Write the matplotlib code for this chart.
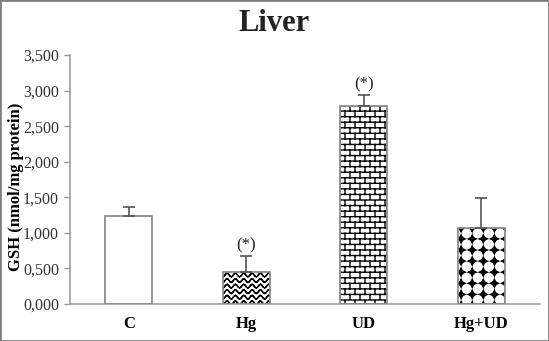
import warnings
import numpy as np
import matplotlib
matplotlib.use('Agg')
import matplotlib.pyplot as plt
import matplotlib.hatch as mhatch
from matplotlib.path import Path
from matplotlib.patches import Rectangle
from matplotlib.ticker import FuncFormatter, MultipleLocator

warnings.filterwarnings('ignore')

# data (GSH, nmol/mg protein)
groups = ['C', 'Hg', 'UD', 'Hg+UD']
gsh_mean = [1.24, 0.455, 2.785, 1.07]
gsh_err = [0.12, 0.22, 0.15, 0.42]
signif = ['', '(*)', '(*)', '']
textures = [None, 'w', 'b', 'd']


# --- custom hatches: waves (w), bricks (b), star/diamond dots (d) ---
class Waves(mhatch.HatchPatternBase):
    def __init__(self, hatch, density):
        self.on = 'w' in hatch
        self.rows, self.periods, self.seg = 18, 12, 8
        nseg = self.periods * self.seg
        self.num_vertices = self.rows * nseg * 2 if self.on else 0

    def set_vertices_and_codes(self, vertices, codes):
        nseg = self.periods * self.seg
        xs = np.linspace(0, 1, nseg + 1)
        amp = 0.018
        k = 0
        for i in range(self.rows):
            y0 = (i + 0.5) / self.rows
            ys = y0 + amp * np.sin(2 * np.pi * self.periods * xs)
            for j in range(nseg):
                vertices[k] = (xs[j], ys[j])
                vertices[k + 1] = (xs[j + 1], ys[j + 1])
                codes[k] = Path.MOVETO
                codes[k + 1] = Path.LINETO
                k += 2


class Bricks(mhatch.HatchPatternBase):
    def __init__(self, hatch, density):
        self.on = 'b' in hatch
        self.rows, self.cols = 18, 10
        n = (self.rows + 1) * 2 + self.rows * (self.cols + 1) * 2
        self.num_vertices = n if self.on else 0

    def set_vertices_and_codes(self, vertices, codes):
        segs = []
        for i in range(self.rows + 1):
            y = i / self.rows
            segs.append(((0, y), (1, y)))
        for i in range(self.rows):
            y0, y1 = i / self.rows, (i + 1) / self.rows
            off = 0.0 if i % 2 == 0 else 0.5
            for k in range(self.cols + 1):
                x = (k + off) / self.cols
                segs.append(((min(x, 1), y0), (min(x, 1), y1)))
        for n, (a, b) in enumerate(segs):
            vertices[2 * n] = a
            vertices[2 * n + 1] = b
            codes[2 * n] = Path.MOVETO
            codes[2 * n + 1] = Path.LINETO


class Stars(mhatch.HatchPatternBase):
    def __init__(self, hatch, density):
        self.on = 'd' in hatch
        self.n = 9
        self.m = 6
        self.per = 4 * self.m + 1
        self.num_vertices = self.n * self.n * self.per if self.on else 0

    def shape(self):
        c = 1.0 / self.n
        h = c / 2
        rho = 0.52 * c
        a = h - np.sqrt(rho ** 2 - h ** 2)
        # concave side: arc of the circle centred at the cell corner (h, h)
        t1 = np.arctan2(-h, a - h)
        t2 = np.arctan2(a - h, -h)
        ts = np.linspace(t1, t2, self.m)
        arc = np.column_stack([h + rho * np.cos(ts), h + rho * np.sin(ts)])
        pts = []
        for q in range(4):
            ang = q * np.pi / 2
            rot = np.array([[np.cos(ang), -np.sin(ang)], [np.sin(ang), np.cos(ang)]])
            pts.append(arc @ rot.T)
        return np.vstack(pts)

    def set_vertices_and_codes(self, vertices, codes):
        base = self.shape()
        k = 0
        for i in range(self.n):
            for j in range(self.n):
                cx, cy = (i + 0.5) / self.n, (j + 0.5) / self.n
                vertices[k:k + self.per - 1] = base + (cx, cy)
                vertices[k + self.per - 1] = base[0] + (cx, cy)
                codes[k] = Path.MOVETO
                codes[k + 1:k + self.per - 1] = Path.LINETO
                codes[k + self.per - 1] = Path.CLOSEPOLY
                k += self.per


mhatch._hatch_types = mhatch._hatch_types + [Waves, Bricks, Stars]

plt.rcParams['font.family'] = ['Liberation Serif', 'DejaVu Serif']
plt.rcParams['hatch.linewidth'] = 1.0

fig = plt.figure(figsize=(5.49, 3.41), dpi=100)
ax = fig.add_axes([70 / 549, 1 - 304 / 341, 470 / 549, 249 / 341])

x = np.arange(len(groups))
# textures in black, then grey outlines on top
ax.bar(x, gsh_mean, width=0.4, color='white', edgecolor='black',
       linewidth=0, hatch=textures, zorder=2)
ax.bar(x, gsh_mean, width=0.4, fill=False, edgecolor='#8c8c8c',
       linewidth=1.3, zorder=3)
ax.errorbar(x, gsh_mean, yerr=[np.zeros(len(x)), gsh_err], fmt='none',
            ecolor='#555555', elinewidth=1.2, capsize=4, capthick=1.2, zorder=4)

for xi, m, e, s in zip(x, gsh_mean, gsh_err, signif):
    if s:
        ax.annotate(s, (xi, m + e), xytext=(0, 2), textcoords='offset points',
                    ha='center', va='bottom', fontsize=12, color='#222222')

ax.set_xlim(-0.5, 3.5)
ax.set_ylim(0, 3.5)
ax.yaxis.set_major_locator(MultipleLocator(0.5))
ax.yaxis.set_major_formatter(FuncFormatter(lambda v, p: f'{v:.3f}'.replace('.', ',')))
ax.set_xticks(x)
ax.set_xticklabels(groups, fontsize=12, fontweight='bold')
ax.tick_params(axis='x', length=0, pad=9)
ax.tick_params(axis='y', length=4, width=1, color='#999999', labelsize=11.5,
               labelcolor='#333333', pad=4)

for side in ['top', 'right']:
    ax.spines[side].set_visible(False)
for side in ['left', 'bottom']:
    ax.spines[side].set_color('#a0a0a0')
    ax.spines[side].set_linewidth(1.2)

ax.set_ylabel('GSH (nmol/mg protein)', fontsize=12, fontweight='bold')
ax.yaxis.set_label_coords(-0.097, 0.47)

fig.text(0.5, 0.932, 'Liver', ha='center', va='center', fontsize=22,
         fontweight='bold', color='#222222')

fig.patches.append(Rectangle((0, 0), 1, 1, transform=fig.transFigure,
                             fill=False, edgecolor='#808080', linewidth=2))

fig.savefig('out.png', dpi=100)
